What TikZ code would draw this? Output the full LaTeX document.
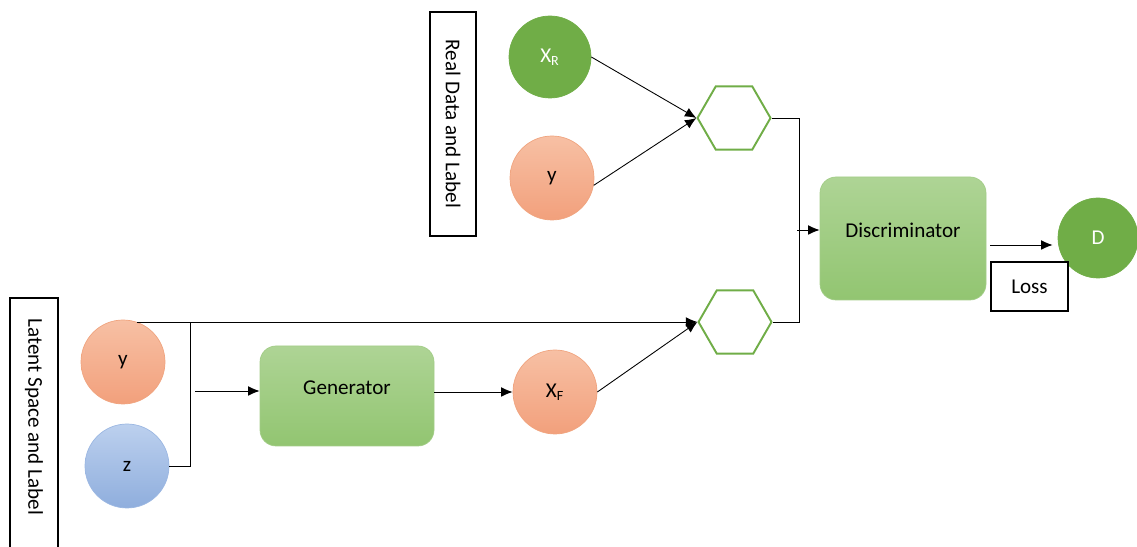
\documentclass[tikz,border=0pt]{standalone}
\usepackage{fontspec}
\setmainfont{Carlito}
\usetikzlibrary{shapes.geometric,arrows.meta}

\definecolor{dgreen}{HTML}{70AD47}
\definecolor{orTop}{HTML}{F7C0A4}
\definecolor{orBot}{HTML}{F2A07C}
\definecolor{orLine}{HTML}{F0A47F}
\definecolor{blTop}{HTML}{BCD0EE}
\definecolor{blBot}{HTML}{8FAEDD}
\definecolor{blLine}{HTML}{9BB7E2}
\definecolor{gnTop}{HTML}{AED495}
\definecolor{gnBot}{HTML}{92C571}
\definecolor{gnLine}{HTML}{A3CD88}

\begin{document}
\begin{tikzpicture}[
	ball/.style={circle, minimum size=1.68cm, inner sep=0pt},
	lab/.style={ball, draw=orLine, top color=orTop, bottom color=orBot},
	noise/.style={ball, draw=blLine, top color=blTop, bottom color=blBot},
	dat/.style={ball, minimum size=1.64cm, fill=dgreen, draw=dgreen, text=white},
	net/.style={rectangle, rounded corners=0.32cm, draw=gnLine, top color=gnTop, bottom color=gnBot},
	hexa/.style={regular polygon, regular polygon sides=6, minimum size=1.46cm, inner sep=0pt, draw=dgreen, line width=1.1pt, fill=white},
	tag/.style={draw, line width=0.9pt, fill=white, inner sep=0pt},
	arr/.style={-{Latex[length=6.5pt,width=5.5pt]}, line width=0.5pt}
]
	\fontsize{12}{14}\selectfont
	\useasboundingbox (0,0) rectangle (22.74,10.94);

	% real side
	\node[tag, rotate=-90, minimum width=4.48cm, minimum height=0.92cm] (real) at (9.06,8.46) {Real Data and Label};
	\node[dat] (XR) at (11.0,9.8) {X\textsubscript{R}};
	\node[lab] (yR) at (11.04,7.38) {y};
	\node[hexa] (hexR) at (14.68,8.58) {};

	% latent side
	\draw[line width=0.9pt] (0.2,-0.2) |- (1.16,4.98) -- (1.16,-0.2);
	\node[rotate=-90] (latent) at (0.68,2.6) {Latent Space and Label};
	\node[lab] (yL) at (2.46,3.7) {y};
	\node[noise] (z) at (2.54,1.62) {z};
	\node[net, minimum width=3.48cm, minimum height=2.0cm] (gen) at (6.94,3.02) {\raisebox{9pt}{Generator}};
	\node[lab] (XF) at (11.1,3.1) {X\textsubscript{F}};
	\node[hexa] (hexF) at (14.7,4.5) {};

	% discriminator
	\node[net, minimum width=3.32cm, minimum height=2.46cm] (disc) at (18.06,6.17) {\raisebox{9pt}{Discriminator}};
	\node[dat, minimum size=1.6cm] (D) at (21.96,6.18) {D};
	\node[tag, minimum width=1.54cm, minimum height=0.98cm] (loss) at (20.59,5.21) {Loss};

	\coordinate (jn) at (3.8,4.5);
	\coordinate (gin) at (3.9,3.12);
	\coordinate (jd) at (15.94,6.34);
	\coordinate (dout) at (19.8,6.04);

	\draw[arr] (XR.east) -- (hexR.west);
	\draw[arr] (yR.-10) -- (hexR.west);
	\draw[arr] (hexF.west -| yL.70) -- (hexF.west);
	\draw (z.east) -| (jn);
	\draw[arr] (gin) -- (gin -| gen.west);
	\draw[arr] (gen.east |- XF.west) -- (XF.west);
	\draw[arr] (XF.east) -- (hexF.west);
	\draw (hexR.east) -| ([xshift=0.53cm]hexF.east) -- (hexF.east);
	\draw[arr] (jd) -- (jd -| disc.west);
	\draw[arr] (dout) -- ([xshift=-0.1cm]dout -| D.west);
\end{tikzpicture}
\end{document}
